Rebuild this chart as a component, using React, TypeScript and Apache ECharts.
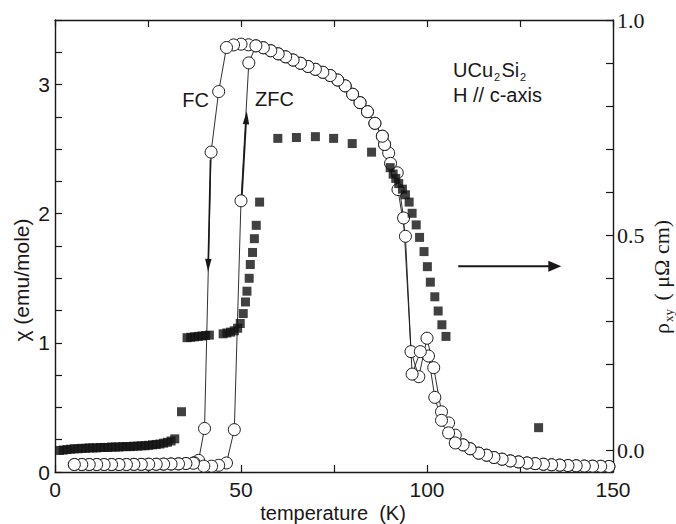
import React, { useEffect, useRef } from 'react';
import * as echarts from 'echarts';

// ---- axis ticks / labels ----
const tempTicks = [0, 25, 50, 75, 100, 125, 150];
const tempLabels = [0, 50, 100, 150];
const chiTicks = [0, 0.25, 0.5, 0.75, 1, 1.25, 1.5, 1.75, 2, 2.25, 2.5, 2.75, 3, 3.25, 3.5];
const chiLabels = [0, 1, 2, 3];
const rhoTicks = [0, 0.1, 0.2, 0.3, 0.4, 0.5, 0.6, 0.7, 0.8, 0.9, 1.0];
const rhoLabels = [0, 0.5, 1.0];

// ---- chi (emu/mole) vs T (K), open circles ----
const chiLowT: [number, number][] = [
  [5.2, 0.058], [7.2, 0.058], [9.2, 0.058], [11.2, 0.058], [13.2, 0.058], [15.2, 0.058],
  [17.2, 0.058], [19.2, 0.058], [21.2, 0.059], [23.2, 0.059], [25.2, 0.06], [27.2, 0.06],
  [29.2, 0.061], [31.2, 0.062], [33.2, 0.063], [35.2, 0.066],
];
const chiFcTransition: [number, number][] = [
  [37.4, 0.072], [38.6, 0.09], [40.2, 0.337], [41.96, 2.477], [44.0, 2.946], [46.1, 3.287],
  [48.0, 3.307], [50.0, 3.313], [52.0, 3.308],
];
const chiZfcTransition: [number, number][] = [
  [37.2, 0.068], [40.0, 0.045], [42.1, 0.045], [44.0, 0.052], [46.1, 0.07], [48.2, 0.328],
  [50.0, 2.1], [52.1, 3.168],
];
const chiTop: [number, number][] = [
  [54.0, 3.3], [56.0, 3.285], [58.0, 3.262], [60.0, 3.238], [62.0, 3.215], [64.0, 3.19],
  [66.0, 3.165], [68.0, 3.14], [70.0, 3.118], [72.0, 3.095], [74.0, 3.07], [76.0, 3.035],
  [78.0, 2.99], [80.0, 2.925], [82.0, 2.86], [84.0, 2.79], [86.0, 2.7], [88.0, 2.6], [88.6, 2.536],
];
const chiFcDrop: [number, number][] = [
  [89.7, 2.47], [92.0, 2.317], [93.7, 1.967], [95.7, 0.932], [97.8, 0.738], [100.0, 1.036],
  [101.8, 0.808], [103.9, 0.466], [105.8, 0.38], [107.6, 0.285],
];
const chiZfcDrop: [number, number][] = [
  [90.2, 2.39], [92.2, 2.187], [94.2, 1.825], [96.0, 0.758], [98.2, 0.932], [100.4, 0.898],
  [102.1, 0.578], [103.9, 0.4], [105.8, 0.303], [107.6, 0.225],
];
const chiTail: [number, number][] = [
  [109.7, 0.21], [111.6, 0.18], [113.9, 0.146], [116.0, 0.13], [118.0, 0.112], [120.2, 0.099],
  [122.4, 0.086], [124.6, 0.078], [126.9, 0.07], [129.1, 0.065], [131.3, 0.06], [133.5, 0.056],
  [135.7, 0.053], [137.9, 0.05], [140.1, 0.048], [142.3, 0.046], [144.5, 0.045], [146.7, 0.044],
  [148.9, 0.043],
];

// ---- rho_xy (μΩ cm) vs T (K), filled squares ----
const rhoXY: [number, number][] = [
  [1.2, 0.0], [2.2, 0.001], [3.2, 0.002], [4.2, 0.003], [5.2, 0.004], [6.2, 0.004], [7.2, 0.005],
  [8.2, 0.005], [9.2, 0.006], [10.2, 0.006], [11.2, 0.006], [12.2, 0.007], [13.2, 0.007],
  [14.2, 0.007], [15.2, 0.008], [16.2, 0.008], [17.2, 0.008], [18.2, 0.009], [19.2, 0.009],
  [20.2, 0.009], [21.2, 0.01], [22.2, 0.01], [23.2, 0.011], [24.2, 0.011], [25.2, 0.012],
  [26.2, 0.013], [27.2, 0.014], [28.2, 0.015], [29.2, 0.017], [30.2, 0.019], [31.2, 0.022],
  [32.2, 0.027], [34.0, 0.09],
  [35.5, 0.262], [36.5, 0.263], [37.5, 0.264], [38.5, 0.265], [39.5, 0.266], [40.5, 0.267],
  [41.5, 0.268], [45.2, 0.271], [46.2, 0.273], [47.2, 0.275], [48.2, 0.278], [49.1, 0.284],
  [49.8, 0.295], [50.6, 0.318], [51.2, 0.345], [51.6, 0.37], [52.2, 0.4], [52.5, 0.432],
  [53.1, 0.46], [53.6, 0.492], [54.1, 0.523], [55.0, 0.577],
  [59.9, 0.725], [64.9, 0.727], [70.0, 0.729], [74.9, 0.725], [79.9, 0.713], [85.1, 0.693],
  [90.1, 0.657], [90.9, 0.642], [91.6, 0.632], [92.4, 0.62], [93.4, 0.607], [94.2, 0.594],
  [95.2, 0.577], [96.0, 0.551], [97.1, 0.524], [98.0, 0.495], [99.2, 0.462], [100.1, 0.427],
  [100.9, 0.391], [102.1, 0.357], [103.0, 0.324], [104.0, 0.292], [105.1, 0.265],
  [130.0, 0.053],
];

// annotation arrows in data coordinates
const fcArrow: [number, number][] = [[41.8, 2.42], [41.14, 1.55]];
const zfcArrow: [number, number][] = [[50.25, 2.14], [51.54, 2.793]];
const rhoArrow: [number, number][] = [[108.4, 0.428], [136.1, 0.428]];

const INK = '#1a1718';
const SANS = '"Liberation Sans", Arial, sans-serif';
const SERIF = '"Liberation Serif", "Times New Roman", serif';

const fcData = [...chiLowT, ...chiFcTransition, ...chiTop, ...chiFcDrop, ...chiTail].reverse();
const zfcData = [...chiLowT, ...chiZfcTransition, ...chiTop, ...chiZfcDrop, ...chiTail].reverse();

function circleSeries(name: string, data: [number, number][]) {
  return {
    name,
    type: 'line',
    xAxisIndex: 0,
    yAxisIndex: 0,
    data,
    symbol: 'circle',
    symbolSize: 12,
    showSymbol: true,
    showAllSymbol: true,
    clip: false,
    lineStyle: { color: INK, width: 0.9 },
    itemStyle: { color: '#ffffff', borderColor: INK, borderWidth: 1 },
    emphasis: { disabled: true },
    z: 2,
  };
}

export default function App() {
  const ref = useRef<HTMLDivElement>(null);
  useEffect(() => {
    const el = ref.current;
    if (!el) return;
    const chart = echarts.init(el, null, { renderer: 'svg' });
    const axisCommon = {
      axisLine: { show: true, onZero: false, lineStyle: { color: INK, width: 1.4 } },
      splitLine: { show: false },
    };
    const option: any = {
      animation: false,
      grid: { left: 55, right: 63, top: 20, bottom: 52, containLabel: false, outerBoundsMode: 'none' },
      xAxis: [
        {
          type: 'value', position: 'bottom', min: 0, max: 150,
          ...axisCommon,
          axisTick: { show: true, inside: true, length: 7, customValues: tempTicks, lineStyle: { color: INK, width: 1.2 } },
          axisLabel: {
            show: true, customValues: tempLabels, margin: 7, color: INK, fontSize: 21, fontFamily: SANS,
            formatter: (v: number) => String(v),
          },
        },
        {
          type: 'value', position: 'top', min: 0, max: 150,
          ...axisCommon,
          axisTick: { show: true, inside: true, length: 7, customValues: tempTicks, lineStyle: { color: INK, width: 1.2 } },
          axisLabel: { show: false },
        },
      ],
      yAxis: [
        {
          type: 'value', position: 'left', min: 0, max: 3.5,
          ...axisCommon,
          axisTick: { show: true, inside: true, length: 7, customValues: chiTicks, lineStyle: { color: INK, width: 1.2 } },
          axisLabel: {
            show: true, customValues: chiLabels, margin: 5, color: INK, fontSize: 21, fontFamily: SANS,
            formatter: (v: number) => String(v),
          },
        },
        {
          type: 'value', position: 'right', min: -0.05, max: 1.0,
          ...axisCommon,
          axisTick: { show: true, inside: true, length: 7, customValues: rhoTicks, lineStyle: { color: INK, width: 1.2 } },
          axisLabel: {
            show: true, customValues: rhoLabels, margin: 4, color: INK, fontSize: 22, fontFamily: SERIF,
            formatter: (v: number) => v.toFixed(1),
          },
        },
      ],
      series: [
        circleSeries('FC', fcData),
        circleSeries('ZFC', zfcData),
        {
          name: 'rho_xy',
          type: 'scatter',
          xAxisIndex: 0,
          yAxisIndex: 1,
          data: rhoXY,
          symbol: 'rect',
          symbolSize: 9,
          itemStyle: { color: '#111111' },
          emphasis: { disabled: true },
          z: 3,
        },
      ],
    };
    chart.setOption(option);

    const px = (yi: number, pt: [number, number]) =>
      chart.convertToPixel({ xAxisIndex: 0, yAxisIndex: yi }, pt) as number[];
    const arrow = (a: number[], b: number[], w: number, headLen: number, headHalf: number) => {
      const dx = b[0] - a[0];
      const dy = b[1] - a[1];
      const L = Math.hypot(dx, dy);
      const ux = dx / L;
      const uy = dy / L;
      const bx = b[0] - ux * headLen;
      const by = b[1] - uy * headLen;
      return [
        { type: 'line', shape: { x1: a[0], y1: a[1], x2: bx + ux, y2: by + uy }, style: { stroke: INK, lineWidth: w } },
        {
          type: 'polygon',
          shape: { points: [[b[0], b[1]], [bx - uy * headHalf, by + ux * headHalf], [bx + uy * headHalf, by - ux * headHalf]] },
          style: { fill: INK },
        },
      ];
    };
    const txt = (text: string, x: number, y: number, size: number, family: string, align = 'left', extra: any = {}) => ({
      type: 'text', x, y, ...extra,
      style: { text, fill: INK, fontSize: size, fontFamily: family, textAlign: align, textVerticalAlign: 'middle' },
    });

    const graphic: any[] = [
      ...arrow(px(0, fcArrow[0]), px(0, fcArrow[1]), 1.6, 13, 3.2),
      ...arrow(px(0, zfcArrow[0]), px(0, zfcArrow[1]), 1.6, 13, 3.2),
      ...arrow(px(1, rhoArrow[0]), px(1, rhoArrow[1]), 2, 13, 5.5),
      txt('FC', 195.5, 100, 20, SANS, 'center'),
      txt('ZFC', 274.5, 99, 20, SANS, 'center'),
      txt('UCu', 453, 70, 20, SANS),
      txt('2', 494, 76.5, 11, SANS),
      txt('Si', 501.5, 70, 20, SANS),
      txt('2', 520, 76.5, 11, SANS),
      txt('H // c-axis', 453, 95, 20, SANS),
      txt('temperature\u00a0 (K)', 333, 513, 20, SANS, 'center'),
      txt('\u03c7 (emu/mole)', 21, 280, 21, SANS, 'center', { rotation: Math.PI / 2 }),
      {
        type: 'group', x: 661, y: 334, rotation: Math.PI / 2,
        children: [
          txt('\u03c1', 0, 0, 22, SERIF),
          txt('xy', 12, 7, 13, SERIF),
          txt('\u00a0(\u00a0\u03bc\u03a9\u00a0cm)', 28, 0, 22, SERIF),
        ],
      },
    ];
    chart.setOption({ graphic });

    return () => {
      chart.dispose();
    };
  }, []);
  return (
    <div
      ref={ref}
      style={{ position: 'absolute', left: 0, top: 0, width: 676, height: 524, background: '#ffffff' }}
    />
  );
}
